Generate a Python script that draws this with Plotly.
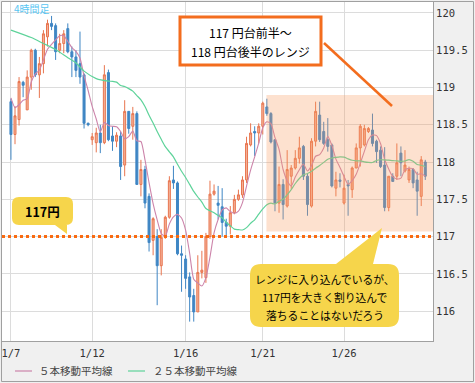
import plotly.graph_objects as go
import pandas as pd

# ---- data (4-hour candles) ----
opens = [118.81,118.37,118.57,119.07,118.70,119.14,119.50,119.17,119.32,119.68,
         119.86,119.83,119.50,119.59,119.79,119.48,119.41,119.32,119.17,118.52,
         118.30,118.26,118.39,118.26,119.20,118.35,118.28,118.35,117.96,118.68,
         118.48,118.65,117.70,117.90,117.54,116.95,117.00,116.61,116.99,117.26,
         117.76,117.72,116.77,116.70,116.46,116.21,115.99,116.52,116.45,117.00,
         117.57,117.45,117.40,117.19,117.14,117.32,117.50,117.56,117.76,118.23,
         118.41,118.39,118.48,118.74,118.65,118.30,117.45,117.70,117.41,117.81,
         117.92,118.05,118.21,117.81,117.41,118.28,118.63,118.41,118.30,118.23,
         117.65,117.76,117.45,117.70,117.63,117.92,118.19,118.23,118.41,118.43,
         118.28,118.16,117.96,117.39,117.81,117.81,118.12,117.88,117.76,117.90,
         117.76,117.54,118.00]
highs = [118.85,118.75,119.14,119.09,119.23,119.52,119.52,119.41,119.77,119.91,
         119.96,119.86,119.72,119.77,119.86,119.55,119.50,119.75,119.19,118.53,
         118.39,118.46,118.50,119.30,119.24,118.48,118.40,118.41,118.83,118.68,
         118.74,118.68,118.03,117.95,117.58,117.26,117.10,117.10,117.28,117.81,
         117.95,117.74,116.88,116.75,116.52,116.30,116.75,116.81,117.05,117.75,
         117.70,117.68,117.65,117.24,117.41,117.56,117.63,117.81,118.34,118.52,
         118.48,118.52,118.81,118.85,118.67,118.30,117.94,117.77,118.16,117.96,
         118.16,118.34,118.23,117.85,118.32,118.81,118.81,118.54,118.59,118.25,
         117.87,117.85,117.83,117.76,117.94,118.25,118.51,118.50,118.47,118.65,
         118.30,118.21,118.20,117.81,117.85,118.25,118.21,118.16,117.94,117.92,
         117.87,118.08,118.03]
lows = [118.03,118.24,118.49,118.87,118.70,118.97,119.14,118.86,119.19,119.55,
        119.77,119.37,119.46,119.46,119.46,119.14,119.14,119.05,118.45,118.48,
        118.23,118.13,118.12,118.24,118.28,118.15,118.20,117.76,117.81,118.38,
        118.30,117.70,117.54,117.38,116.80,116.75,116.08,116.48,116.97,117.24,
        117.64,116.75,116.26,116.30,115.86,115.86,115.99,116.44,116.38,116.97,
        117.55,117.23,117.00,117.00,117.03,117.30,117.48,117.52,117.72,118.21,
        118.08,118.25,118.37,118.62,118.25,117.34,117.32,117.23,117.39,117.64,
        117.90,117.98,117.76,117.28,117.39,118.21,118.27,118.23,118.14,117.66,
        117.54,117.66,117.43,117.28,117.52,117.92,117.94,118.21,118.39,118.21,
        117.99,117.92,117.34,117.34,117.74,117.76,117.81,117.86,117.72,117.65,
        117.28,117.41,117.76]
closes = [118.37,118.62,119.08,119.03,119.14,119.50,119.17,119.32,119.72,119.86,
          119.82,119.48,119.59,119.72,119.48,119.41,119.23,119.14,118.52,118.50,
          118.34,118.39,118.26,119.17,118.30,118.28,118.36,117.94,118.68,118.45,
          118.65,117.70,117.90,117.45,116.92,117.24,116.61,116.99,117.26,117.75,
          117.72,116.77,116.75,116.44,116.19,115.99,116.52,116.55,117.00,117.57,
          117.61,117.42,117.19,117.14,117.32,117.50,117.56,117.76,118.25,118.39,
          118.39,118.48,118.79,118.65,118.27,117.45,117.70,117.43,117.90,117.92,
          118.05,118.19,117.81,117.43,118.28,118.68,118.30,118.25,118.21,117.68,
          117.76,117.74,117.65,117.68,117.92,118.19,118.48,118.45,118.45,118.25,
          118.14,117.94,117.39,117.81,117.74,117.99,117.99,117.96,117.90,117.72,
          117.61,118.03,117.81]

# moving-average values before enough bars are on the chart
ma5_head_bars = [0, 1, 2, 3]
ma5_head_vals = [118.86, 118.73, 118.77, 118.83]
ma25_head_bars = [0, 5, 8, 11, 14, 16, 18, 21]
ma25_head_vals = [119.77, 119.67, 119.59, 119.51, 119.40, 119.33, 119.22, 119.12]

tick_bars = [0, 20, 43, 62, 82]
tick_labels = ["1/7", "1/12", "1/16", "1/21", "1/26"]
y_ticks = [116, 116.5, 117, 117.5, 118, 118.5, 119, 119.5, 120]
y_tick_labels = ["116", "116.5", "117", "117.5", "118", "118.5", "119", "119.5", "120"]

support_level = 117.0
range_low, range_high = 117.07, 118.90
range_start_bar = 62.9

# ---- figure geometry ----
W, H = 475, 383
ML, MR, MT, MB = 2, 42, 2, 42
PW, PH = W - ML - MR, H - MT - MB
X_RANGE = [-2.2, 103.9]
Y_RANGE = [115.60, 120.147]


def PX(px):
    return (px - ML) / PW


def PY(py):
    return (H - MB - py) / PH


bars = list(range(len(closes)))
s = pd.Series(closes)
ma5 = s.rolling(5).mean()
ma25 = s.rolling(25).mean()
ma5_x = ma5_head_bars + bars[4:]
ma5_y = ma5_head_vals + list(ma5[4:])
ma25_x = ma25_head_bars + bars[24:]
ma25_y = ma25_head_vals + list(ma25[24:])

UP_LINE, UP_FILL = "#e8754f", "#f4b39a"
DN = "#3f86c4"
MA5_C, MA25_C = "#cc84aa", "#5ed39a"
ORANGE = "#f36d1e"
YELLOW = "#f6d54b"
CJK = "Noto Sans CJK JP"
MONO = "DejaVu Sans Mono"

fig = go.Figure()
fig.add_trace(go.Candlestick(
    x=bars, open=opens, high=highs, low=lows, close=closes,
    increasing=dict(line=dict(color=UP_LINE, width=1), fillcolor=UP_FILL),
    decreasing=dict(line=dict(color=DN, width=1), fillcolor=DN),
    whiskerwidth=0, showlegend=False, hoverinfo="skip"))
fig.add_trace(go.Scatter(x=ma5_x, y=ma5_y, mode="lines",
                         line=dict(color=MA5_C, width=1.1, shape="spline", smoothing=0.6),
                         showlegend=False, hoverinfo="skip"))
fig.add_trace(go.Scatter(x=ma25_x, y=ma25_y, mode="lines",
                         line=dict(color=MA25_C, width=1.2, shape="spline", smoothing=0.6),
                         showlegend=False, hoverinfo="skip"))

shapes = []
# range box
shapes.append(dict(type="rect", xref="x", yref="y", x0=range_start_bar, x1=X_RANGE[1],
                   y0=range_low, y1=range_high, fillcolor="rgb(248,155,95)", opacity=0.3,
                   line=dict(width=0), layer="above"))
# 117 dotted line
shapes.append(dict(type="line", xref="paper", yref="y", x0=0, x1=1,
                   y0=support_level, y1=support_level,
                   line=dict(color="#f96a10", width=3, dash="dot"), layer="above"))
# box 1 and its connector
shapes.append(dict(type="rect", xref="paper", yref="paper", x0=PX(180), x1=PX(321),
                   y0=PY(65), y1=PY(17), fillcolor="white",
                   line=dict(color=ORANGE, width=3), layer="above"))
shapes.append(dict(type="line", xref="paper", yref="paper", x0=PX(324), y0=PY(43),
                   x1=PX(392), y1=PY(106), line=dict(color=ORANGE, width=2.5), layer="above"))


def bubble(x0, y0, x1, y1, r, ptr):
    def P(x, y):
        return f"{PX(x):.5f},{PY(y):.5f}"
    d = f"M{P(x0 + r, y0)}"
    if ptr[0] == "top":
        for (x, y) in ptr[1]:
            d += f" L{P(x, y)}"
    d += f" L{P(x1 - r, y0)} Q{P(x1, y0)} {P(x1, y0 + r)}"
    d += f" L{P(x1, y1 - r)} Q{P(x1, y1)} {P(x1 - r, y1)}"
    if ptr[0] == "bottom":
        for (x, y) in ptr[1]:
            d += f" L{P(x, y)}"
    d += f" L{P(x0 + r, y1)} Q{P(x0, y1)} {P(x0, y1 - r)}"
    d += f" L{P(x0, y0 + r)} Q{P(x0, y0)} {P(x0 + r, y0)} Z"
    return d


shapes.append(dict(type="path", xref="paper", yref="paper",
                   path=bubble(250, 264, 399, 327, 11,
                               ("top", [(336, 264), (382, 228), (373, 264)])),
                   fillcolor=YELLOW, line=dict(width=0), layer="above"))
shapes.append(dict(type="path", xref="paper", yref="paper",
                   path=bubble(12, 197, 73, 225, 7,
                               ("bottom", [(67, 225), (67, 234), (55, 225)])),
                   fillcolor=YELLOW, line=dict(width=0), layer="above"))
# legend lines
shapes.append(dict(type="line", xref="paper", yref="paper", x0=PX(15), x1=PX(32),
                   y0=PY(371), y1=PY(371), line=dict(color=MA5_C, width=1.2)))
shapes.append(dict(type="line", xref="paper", yref="paper", x0=PX(128), x1=PX(145),
                   y0=PY(371), y1=PY(371), line=dict(color=MA25_C, width=1.2)))
# outer frame
shapes.append(dict(type="rect", xref="paper", yref="paper", x0=PX(1.5), x1=PX(473.5),
                   y0=PY(381.5), y1=PY(1.5), line=dict(color="#a0a0a0", width=1),
                   fillcolor="rgba(0,0,0,0)"))

ann = []


def text(x, y, t, size, color="black", family=CJK, xanchor="center"):
    ann.append(dict(xref="paper", yref="paper", x=PX(x), y=PY(y), text=t,
                    showarrow=False, xanchor=xanchor, yanchor="middle",
                    font=dict(family=family, size=size, color=color)))


text(250.5, 32.5, "117 円台前半～", 12)
text(250.5, 51, "118 円台後半のレンジ", 12)
text(324.5, 279, "レンジに入り込んでいるが、", 10.8)
text(324.5, 297, "117円を大きく割り込んで", 10.8)
text(324.5, 314.5, "落ちることはないだろう", 10.8)
text(42.5, 211.5, "<b>117円</b>", 12.5)
text(12, 9, "4時間足", 10, color="#58c6f2", xanchor="left")
text(37, 371, "５本移動平均線", 10.5, color="#444", xanchor="left")
text(151, 371, "２５本移動平均線", 10.5, color="#444", xanchor="left")

fig.update_layout(
    width=W, height=H, margin=dict(l=ML, r=MR, t=MT, b=MB),
    paper_bgcolor="#f0f0f0", plot_bgcolor="white",
    shapes=shapes, annotations=ann, showlegend=False,
    xaxis=dict(range=X_RANGE, tickvals=tick_bars, ticktext=tick_labels,
               showgrid=True, gridcolor="#dcdcdc", gridwidth=1, zeroline=False,
               rangeslider=dict(visible=False), showline=True, linecolor="#a0a0a0",
               ticks="", ticklabelstandoff=2,
               tickfont=dict(family=MONO, size=10.5, color="#333")),
    yaxis=dict(range=Y_RANGE, side="right", tickvals=y_ticks, ticktext=y_tick_labels,
               showgrid=True, gridcolor="#dcdcdc", gridwidth=1, zeroline=False,
               showline=True, linecolor="#a0a0a0", ticks="",
               tickfont=dict(family=MONO, size=10.5, color="#333")),
)

fig.write_html("out.html", config={"displayModeBar": False},
               post_script="document.body.style.margin='0';document.body.style.overflow='hidden';")
